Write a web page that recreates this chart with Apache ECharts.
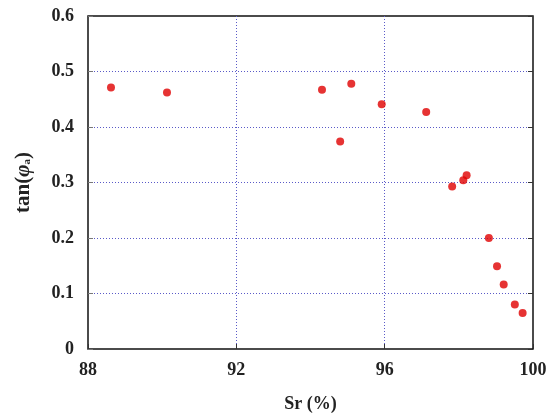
<!DOCTYPE html>
<html>
<head>
<meta charset="utf-8">
<script src="https://cdn.jsdelivr.net/npm/echarts@6/dist/echarts.min.js"></script>
<style>
	html, body { margin: 0; padding: 0; background: #fff; }
	#chart { width: 551px; height: 418px; }
</style>
</head>
<body>
<div id="chart"></div>
<script>
	// 饱和度 Sr (%) 与 tan(φa)
	var srValues = [88.62, 90.13, 94.31, 95.10, 94.80, 95.92, 97.12, 97.82, 98.12, 98.21, 98.81, 99.03, 99.21, 99.51, 99.72];
	var tanValues = [0.471, 0.462, 0.467, 0.478, 0.374, 0.441, 0.427, 0.293, 0.304, 0.313, 0.200, 0.149, 0.116, 0.080, 0.065];

	var points = srValues.map(function (x, i) { return [x, tanValues[i]]; });

	var font = '"Liberation Serif", "Times New Roman", Times, serif';
	var gridColor = '#5a5ac8';

	var myChart = echarts.init(document.getElementById('chart'));
	var option = {
		animation: false,
		grid: {
			left: 88,
			right: 18,
			top: 16,
			bottom: 68,
			show: true,
			borderColor: '#111',
			borderWidth: 1.5,
			backgroundColor: 'transparent'
		},
		xAxis: {
			type: 'value',
			min: 88,
			max: 100,
			interval: 4,
			name: 'Sr (%)',
			nameLocation: 'middle',
			nameGap: 46,
			nameTextStyle: { fontFamily: font, fontWeight: 'bold', fontSize: 18, color: '#222' },
			axisLine: { show: false },
			axisTick: { show: true, inside: true, length: 5, lineStyle: { color: '#333' } },
			axisLabel: { fontFamily: font, fontWeight: 'bold', fontSize: 18, color: '#222', margin: 12 },
			splitLine: { show: true, showMinLine: false, showMaxLine: false, lineStyle: { color: gridColor, type: [1, 2], width: 1 } }
		},
		yAxis: [
			{
				type: 'value',
				min: 0,
				max: 0.6,
				interval: 0.1,
				name: 'tan({i|φ}{s|a})',
				nameLocation: 'middle',
				nameGap: 54,
				nameRotate: 90,
				nameTextStyle: {
					fontFamily: font, fontWeight: 'bold', fontSize: 21, color: '#222',
					rich: {
						i: { fontFamily: font, fontStyle: 'italic', fontWeight: 'bold', fontSize: 21, color: '#222' },
						s: { fontFamily: font, fontWeight: 'bold', fontSize: 11, color: '#222', padding: [8, 0, 0, 0] }
					}
				},
				axisLine: { show: false },
				axisTick: { show: true, inside: true, length: 5, lineStyle: { color: '#777' } },
				axisLabel: { fontFamily: font, fontWeight: 'bold', fontSize: 18, color: '#222', margin: 14 },
				splitLine: { show: true, showMinLine: false, showMaxLine: false, lineStyle: { color: gridColor, type: [1, 2], width: 1 } }
			},
			{
				type: 'value',
				min: 0,
				max: 0.6,
				interval: 0.1,
				position: 'right',
				axisLine: { show: false },
				axisTick: { show: true, inside: true, length: 5, lineStyle: { color: '#333' } },
				axisLabel: { show: false },
				splitLine: { show: false }
			}
		],
		series: [
			{
				type: 'scatter',
				data: points,
				symbolSize: 8,
				itemStyle: { color: '#e00000' }
			}
		]
	};
	myChart.setOption(option);
</script>
</body>
</html>
